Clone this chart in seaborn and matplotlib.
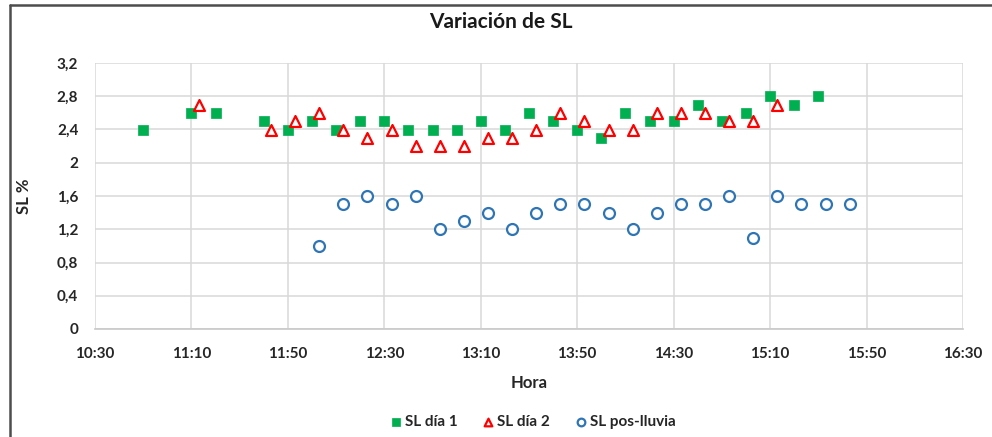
import matplotlib
matplotlib.use("Agg")
import matplotlib.pyplot as plt
from matplotlib.lines import Line2D
from matplotlib.ticker import FuncFormatter, MultipleLocator
import pandas as pd
import seaborn as sns

# --- data ---
dia1_hora = ["10:50", "11:10", "11:20", "11:40", "11:50", "12:00", "12:10", "12:20",
             "12:30", "12:40", "12:50", "13:00", "13:10", "13:20", "13:30", "13:40",
             "13:50", "14:00", "14:10", "14:20", "14:30", "14:40", "14:50", "15:00",
             "15:10", "15:20", "15:30"]
dia1_sl = [2.4, 2.6, 2.6, 2.5, 2.4, 2.5, 2.4, 2.5,
           2.5, 2.4, 2.4, 2.4, 2.5, 2.4, 2.6, 2.5,
           2.4, 2.3, 2.6, 2.5, 2.5, 2.7, 2.5, 2.6,
           2.8, 2.7, 2.8]

dia2_hora = ["11:13", "11:43", "11:53", "12:03", "12:13", "12:23", "12:33", "12:43",
             "12:53", "13:03", "13:13", "13:23", "13:33", "13:43", "13:53", "14:03",
             "14:13", "14:23", "14:33", "14:43", "14:53", "15:03", "15:13"]
dia2_sl = [2.7, 2.4, 2.5, 2.6, 2.4, 2.3, 2.4, 2.2,
           2.2, 2.2, 2.3, 2.3, 2.4, 2.6, 2.5, 2.4,
           2.4, 2.6, 2.6, 2.6, 2.5, 2.5, 2.7]

lluvia_hora = ["12:03", "12:13", "12:23", "12:33", "12:43", "12:53", "13:03", "13:13",
               "13:23", "13:33", "13:43", "13:53", "14:03", "14:13", "14:23", "14:33",
               "14:43", "14:53", "15:03", "15:13", "15:23", "15:33", "15:43"]
lluvia_sl = [1.0, 1.5, 1.6, 1.5, 1.6, 1.2, 1.3, 1.4,
             1.2, 1.4, 1.5, 1.5, 1.4, 1.2, 1.4, 1.5,
             1.5, 1.6, 1.1, 1.6, 1.5, 1.5, 1.5]

eje_x = ["10:30", "11:10", "11:50", "12:30", "13:10", "13:50", "14:30", "15:10", "15:50", "16:30"]


def to_min(h):
    hh, mm = h.split(":")
    return int(hh) * 60 + int(mm)


def frame(horas, valores):
    return pd.DataFrame({"hora": [to_min(h) for h in horas], "sl": valores})


df1 = frame(dia1_hora, dia1_sl)
df2 = frame(dia2_hora, dia2_sl)
df3 = frame(lluvia_hora, lluvia_sl)

sns.set_style("white")
plt.rcParams["font.family"] = ["Lato", "DejaVu Sans"]
plt.rcParams["font.weight"] = "bold"

fig, ax = plt.subplots(figsize=(9.92, 4.37), dpi=100)
fig.subplots_adjust(left=95 / 992, right=963 / 992, top=1 - 63 / 437, bottom=1 - 329 / 437)

sns.scatterplot(data=df1, x="hora", y="sl", ax=ax, marker="s", s=52,
                color="#00b050", edgecolor="#00b050", linewidth=0.5, label="SL día 1", zorder=3)
sns.scatterplot(data=df2, x="hora", y="sl", ax=ax, marker="^", s=62,
                color="white", edgecolor="#ff0000", linewidth=1.6, label="SL día 2", zorder=3)
sns.scatterplot(data=df3, x="hora", y="sl", ax=ax, marker="o", s=62,
                color="white", edgecolor="#2e75b6", linewidth=1.6, label="SL pos-lluvia", zorder=3)

ax.set_xticks([to_min(h) for h in eje_x], eje_x)
ax.set_xlim(to_min("10:30"), to_min("16:30"))
ax.set_ylim(0, 3.2)
ax.yaxis.set_major_locator(MultipleLocator(0.4))
ax.yaxis.set_major_formatter(FuncFormatter(lambda v, p: f"{round(v, 1):g}".replace(".", ",")))

ax.grid(True, color="#d9d9d9", lw=1.1)
ax.set_axisbelow(True)
for side in ["left", "right", "top"]:
    ax.spines[side].set_visible(False)
ax.spines["bottom"].set_color("#c8c8c8")
ax.spines["bottom"].set_linewidth(1.2)
ax.tick_params(axis="both", length=0, labelsize=11, colors="#262626")
ax.tick_params(axis="x", pad=13)
ax.tick_params(axis="y", pad=12)
for lab in ax.get_xticklabels() + ax.get_yticklabels():
    lab.set_fontweight("bold")

ax.set_xlabel("Hora", fontsize=12, fontweight="bold", color="#262626", labelpad=10)
ax.set_ylabel("SL %", fontsize=12, fontweight="bold", color="#262626", labelpad=18)
fig.text(501 / 992, 1 - 22 / 437, "Variación de SL", ha="center", va="center",
         fontsize=15, fontweight="bold", color="#1a1a1a")

leg = ax.legend(loc="center", bbox_to_anchor=(532 / 992, 1 - 422 / 437), bbox_transform=fig.transFigure,
                ncol=3, frameon=False, fontsize=11, markerscale=0.7,
                handletextpad=0.1, columnspacing=1.5, handlelength=1.0)
for t in leg.get_texts():
    t.set_fontweight("bold")
    t.set_color("#262626")

# outer chart border (left and top edges are visible in the reference)
fig.add_artist(Line2D([10 / 992, 10 / 992], [0, 1 - 5 / 437], transform=fig.transFigure,
                      color="#4d4d4d", lw=1.8))
fig.add_artist(Line2D([10 / 992, 1], [1 - 5 / 437, 1 - 5 / 437], transform=fig.transFigure,
                      color="#4d4d4d", lw=1.8))

fig.savefig("out.png", dpi=100)
